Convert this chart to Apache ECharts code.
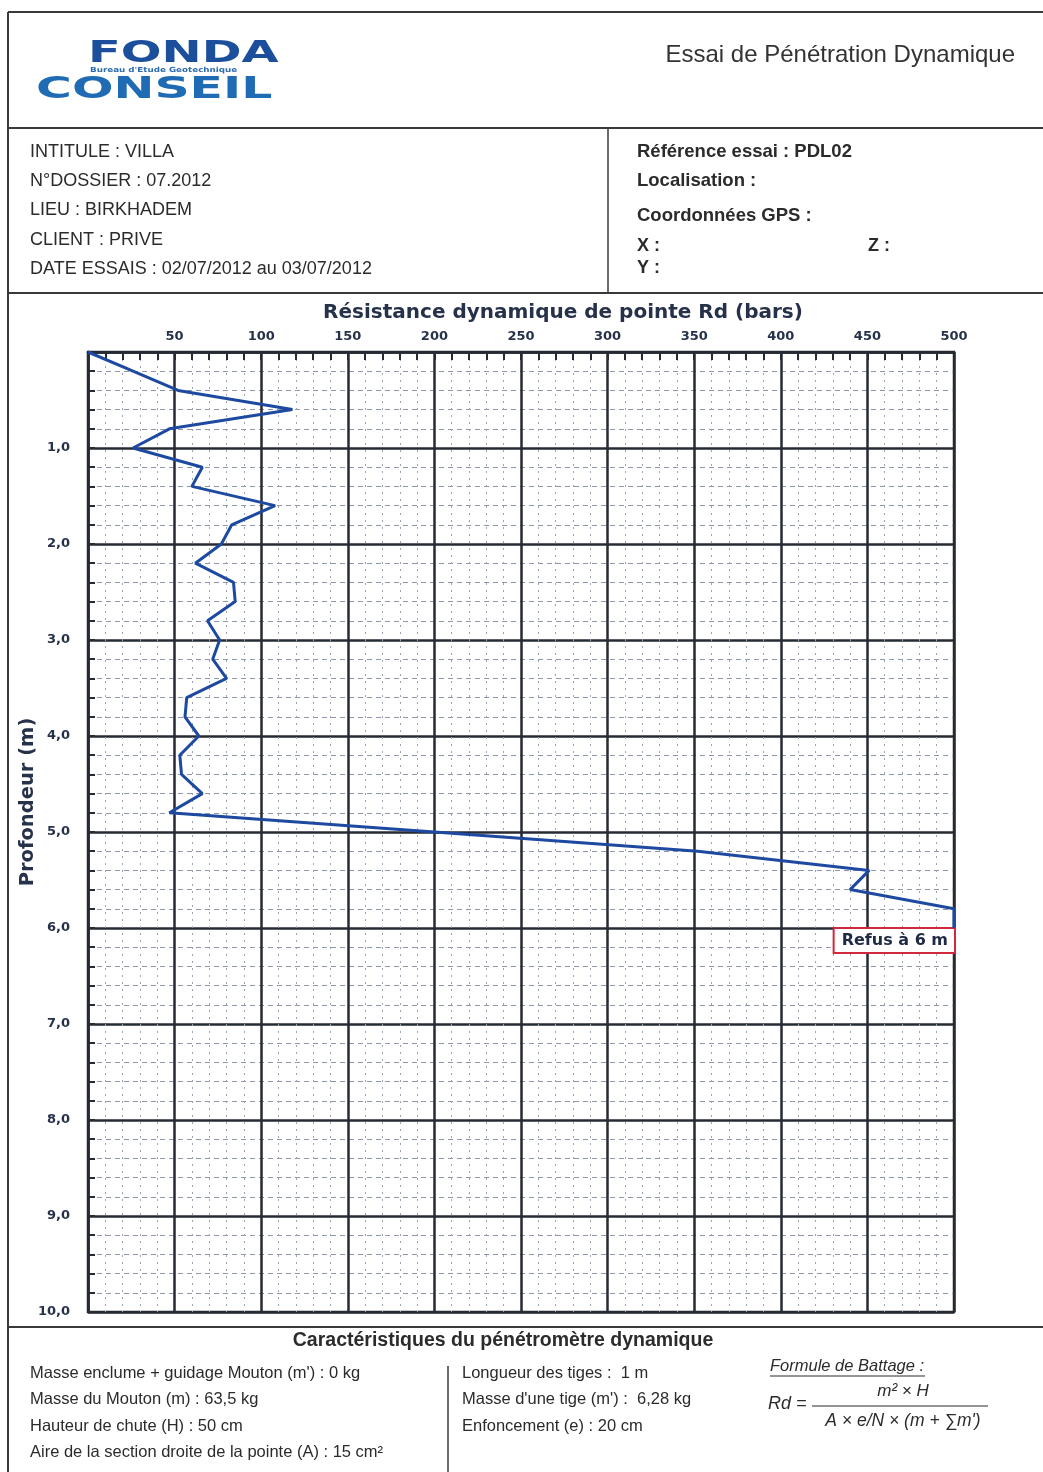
<!DOCTYPE html>
<html>
<head>
<meta charset="utf-8">
<script src="https://cdn.jsdelivr.net/npm/echarts@6/dist/echarts.min.js"></script>
<style>
html,body{margin:0;padding:0;background:#fff;}
#c{width:1043px;height:1472px;}
</style>
</head>
<body>
<div id="c"></div>
<script>
// ---- data ----
var depths = [0,0.2,0.4,0.6,0.8,1.0,1.2,1.4,1.6,1.8,2.0,2.2,2.4,2.6,2.8,3.0,3.2,3.4,3.6,3.8,4.0,4.2,4.4,4.6,4.8,5.0,5.2,5.4,5.6,5.8,6.0];
var rdValues = [0,26,52,118,47,26,66,60,108,83,77,62,84,85,69,76,72,80,57,56,64,53,54,66,47,200,352,451,440,500,500];
var xTicks = [0,50,100,150,200,250,300,350,400,450,500];
var yTicks = [0,1,2,3,4,5,6,7,8,9,10];
var refusLabel = 'Refus à 6 m';
var refusPoint = [500, 6];
var infoLeft = ['INTITULE : VILLA','N°DOSSIER : 07.2012','LIEU : BIRKHADEM','CLIENT : PRIVE','DATE ESSAIS : 02/07/2012 au 03/07/2012'];
var infoRight = ['Référence essai : PDL02','Localisation :','Coordonnées GPS :'];
var caracLeft = ["Masse enclume + guidage Mouton (m') : 0 kg","Masse du Mouton (m) : 63,5 kg","Hauteur de chute (H) : 50 cm","Aire de la section droite de la pointe (A) : 15 cm²"];
var caracMid = ["Longueur des tiges :  1 m","Masse d'une tige (m') :  6,28 kg","Enfoncement (e) : 20 cm"];

var seriesData = depths.map(function(d,i){ return [rdValues[i], d]; });

var chart = echarts.init(document.getElementById('c'), null, {renderer:'canvas'});

var LINE = '#3a3a3a';
var sans = "'Liberation Sans', Arial, sans-serif";
function txt(x,y,s,font,fill,align,extra){
  var o = {type:'text', x:x, y:y, style:{text:s, font:font, fill:fill||'#2b2b2b', align:align||'left', verticalAlign:'middle'}};
  if(extra){ for(var k in extra) o[k]=extra[k]; }
  return o;
}
function ln(x1,y1,x2,y2,w,c){
  return {type:'line', shape:{x1:x1,y1:y1,x2:x2,y2:y2}, style:{stroke:c||LINE, lineWidth:w||1.5}};
}

var graphics = [
  ln(8,12,1043,12,2), ln(8,128,1043,128,2), ln(8,293,1043,293,2), ln(8,1327,1043,1327,2),
  ln(8,12,8,1472,2), ln(608,128,608,293,1.5), ln(448,1366,448,1472,1.5),
  // logo
  txt(88,54,'FONDA',"bold 30px 'DejaVu Sans'",'#1b4f9c','left',{scaleX:1.6,scaleY:0.98}),
  txt(90,70,"Bureau d'Etude Geotechnique","bold 7px 'DejaVu Sans'",'#2a6bb0','left',{scaleX:1.25}),
  txt(36,90,'CONSEIL',"bold 30px 'DejaVu Sans'",'#1f6cb5','left',{scaleX:1.63,scaleY:0.98}),
  // header title
  txt(1015,55,'Essai de Pénétration Dynamique',"24px "+sans,'#333','right'),
  // axis titles
  txt(563,313,'Résistance dynamique de pointe Rd (bars)',"bold 20px 'DejaVu Sans'",'#26314a','center'),
  txt(28,802,'Profondeur (m)',"bold 19.5px 'DejaVu Sans'",'#26314a','center',{rotation:Math.PI/2}),
  // bottom section
  txt(503,1341,'Caractéristiques du pénétromètre dynamique',"bold 19.5px "+sans,'#2b2b2b','center'),
  txt(770,1366,'Formule de Battage :',"italic 16.5px "+sans,'#2b2b2b','left'),
  ln(770,1376,925,1376,1,'#2b2b2b'),
  txt(768,1404,'Rd =',"italic 18px "+sans,'#2b2b2b','left'),
  txt(903,1391,'m² × H',"italic 17px "+sans,'#2b2b2b','center'),
  ln(812,1406,988,1406,1.2,'#2b2b2b'),
  txt(903,1421,"A × e/N × (m + ∑m')","italic 17.5px "+sans,'#2b2b2b','center'),
  // right info extra
  txt(637,246,'X :',"bold 18px "+sans,'#2b2b2b','left'),
  txt(868,246,'Z :',"bold 18px "+sans,'#2b2b2b','left'),
  txt(637,268,'Y :',"bold 18px "+sans,'#2b2b2b','left')
];
var yl = [152,181,210,240,269];
infoLeft.forEach(function(s,i){ graphics.push(txt(30,yl[i],s,"18px "+sans,'#2b2b2b','left')); });
var yr = [152,181,216];
infoRight.forEach(function(s,i){ graphics.push(txt(637,yr[i],s,"bold 18.5px "+sans,'#2b2b2b','left')); });
var yb = [1373,1399,1426,1452];
caracLeft.forEach(function(s,i){ graphics.push(txt(30,yb[i],s,"16.5px "+sans,'#2b2b2b','left')); });
caracMid.forEach(function(s,i){ graphics.push(txt(462,yb[i],s,"16.5px "+sans,'#2b2b2b','left')); });

var option = {
  animation:false,
  backgroundColor:'#fff',
  grid:{left:88, top:352, width:866, height:960, show:true, borderColor:'#262b33', borderWidth:2.5, backgroundColor:'transparent'},
  xAxis:{
    type:'value', position:'top', min:xTicks[0], max:xTicks[xTicks.length-1], interval:50,
    axisLine:{show:true, lineStyle:{color:'#262b33', width:2.5}},
    axisTick:{show:true, inside:true, length:8, lineStyle:{color:'#262b33', width:2}},
    minorTick:{show:true, splitNumber:5, length:8, lineStyle:{color:'#262b33', width:2}},
    axisLabel:{margin:9, color:'#26314a', fontFamily:'DejaVu Sans', fontWeight:'bold', fontSize:13,
      formatter:function(v){ return v===0?'':String(v); }},
    splitLine:{show:true, lineStyle:{color:'#262b33', width:2.5}},
    minorSplitLine:{show:true, lineStyle:{color:'#9aa2b4', width:1, type:[2,5]}}
  },
  yAxis:{
    type:'value', inverse:true, min:yTicks[0], max:yTicks[yTicks.length-1], interval:1,
    axisLine:{show:true, lineStyle:{color:'#262b33', width:2.5}},
    axisTick:{show:true, inside:true, length:7, lineStyle:{color:'#262b33', width:2}},
    minorTick:{show:true, splitNumber:5, length:7, lineStyle:{color:'#262b33', width:2}},
    axisLabel:{margin:18, color:'#26314a', fontFamily:'DejaVu Sans', fontWeight:'bold', fontSize:13,
      formatter:function(v){ return v===0?'':v.toFixed(1).replace('.',','); }},
    splitLine:{show:true, lineStyle:{color:'#262b33', width:2.5}},
    minorSplitLine:{show:true, lineStyle:{color:'#8e97aa', width:1, type:[5,4]}}
  },
  series:[{
    type:'line', data:seriesData, showSymbol:false, symbol:'none',
    lineStyle:{color:'#1d4aa0', width:3}, z:5,
    markPoint:{
      symbol:'rect', symbolSize:0,
      data:[{coord:refusPoint, value:0}],
      label:{show:true, formatter:refusLabel, position:[0,1], align:'right', verticalAlign:'top',
        backgroundColor:'#fff', borderColor:'#d0283c', borderWidth:2, padding:[4,6,3,7],
        color:'#1f2a44', fontFamily:'DejaVu Sans', fontWeight:'bold', fontSize:16}
    }
  }],
  graphic:graphics
};
chart.setOption(option);
</script>
</body>
</html>
